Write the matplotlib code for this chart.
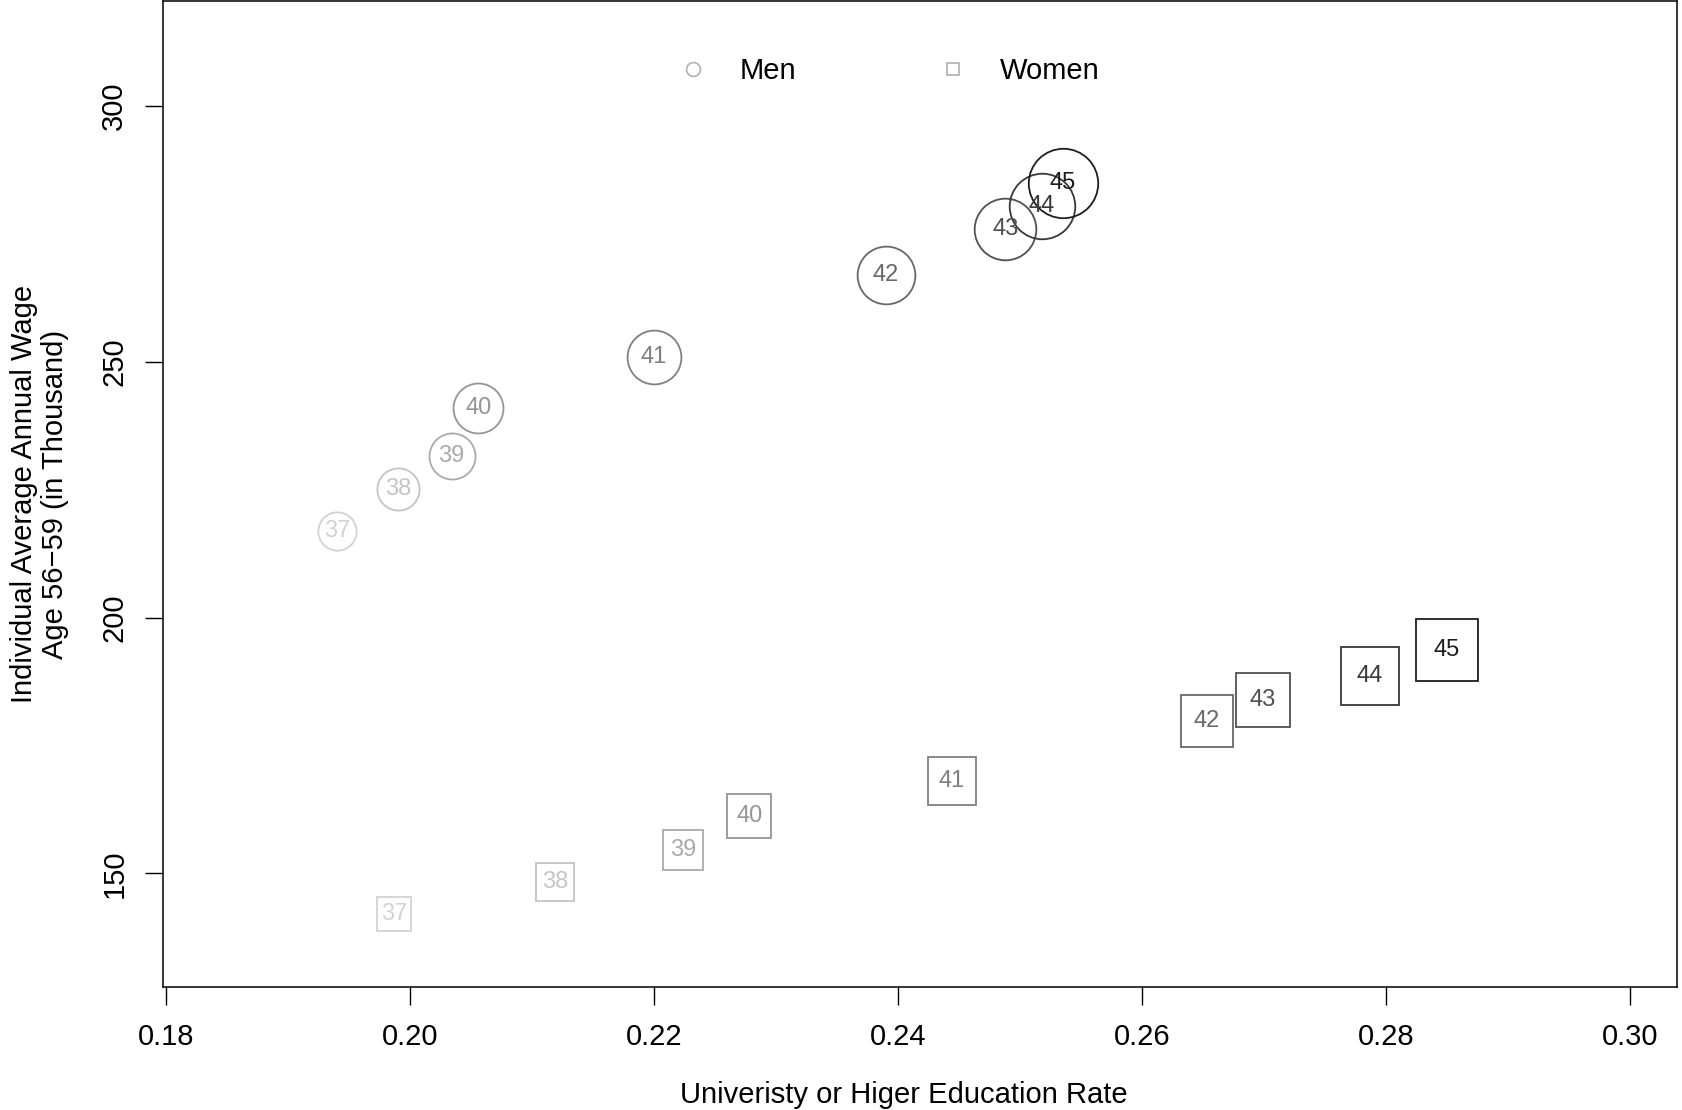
import matplotlib
matplotlib.use("Agg")
import matplotlib.pyplot as plt
from matplotlib.lines import Line2D

plt.rcParams['font.family'] = ['Liberation Sans', 'DejaVu Sans']

# cohorts (label inside each marker)
cohort = [37, 38, 39, 40, 41, 42, 43, 44, 45]
# Men: education rate and wage (thousand)
men_edu = [0.1940, 0.1990, 0.2034, 0.2056, 0.2200, 0.2390, 0.2488, 0.2518, 0.2535]
men_wage = [216.9, 225.1, 231.6, 241.0, 251.0, 266.9, 275.9, 280.5, 284.9]
# Women
women_edu = [0.1987, 0.2119, 0.2224, 0.2278, 0.2444, 0.2653, 0.2699, 0.2787, 0.2850]
women_wage = [142.1, 148.3, 154.6, 161.3, 168.0, 179.7, 183.9, 188.5, 193.7]

xticks = [0.18, 0.20, 0.22, 0.24, 0.26, 0.28, 0.30]
yticks = [150, 200, 250, 300]

# gray shade per cohort, light -> dark
shades = ['#d2d2d2', '#c4c4c4', '#aaaaaa', '#959595', '#808080',
          '#686868', '#505050', '#383838', '#1e1e1e']

fig = plt.figure(figsize=(16.83, 11.1), dpi=100)
ax = fig.add_axes([163/1683, 1-987/1110, (1677-163)/1683, 987/1110 - 0.001])

for i in range(len(cohort)):
    base = 51 + 5.2*i       # marker scale (px), grows with cohort
    ax.plot(men_edu[i], men_wage[i], 'o', ms=0.75*base*0.72, mfc='none',
            mec=shades[i], mew=1.3)
    ax.text(men_edu[i], men_wage[i], str(cohort[i]), ha='center', va='center',
            fontsize=17, color=shades[i])
    ax.plot(women_edu[i], women_wage[i], 's', ms=0.665*base*0.72, mfc='none',
            mec=shades[i], mew=1.3)
    ax.text(women_edu[i], women_wage[i], str(cohort[i]), ha='center', va='center',
            fontsize=17, color=shades[i])

ax.set_xlim(0.17974, 0.30387)
ax.set_ylim(127.8, 320.5)
ax.set_xticks(xticks)
ax.set_xticklabels(['%.2f' % v for v in xticks])
ax.set_yticks(yticks)
ax.tick_params(axis='both', labelsize=21, length=13, width=1.0, direction='out')
ax.tick_params(axis='x', pad=13)
ax.tick_params(axis='y', pad=12)
plt.setp(ax.get_yticklabels(), rotation=90, va='center')
for s in ax.spines.values():
    s.set_linewidth(1.1)

ax.text(0.489, -0.1175, 'Univeristy or Higer Education Rate', transform=ax.transAxes,
        ha='center', va='baseline', fontsize=21)
ax.text(-0.0814, 0.5, 'Individual Average Annual Wage\nAge 56\u221259 (in Thousand)',
        transform=ax.transAxes, ha='center', va='center', rotation=90,
        fontsize=21, linespacing=1.15, multialignment='center')

handles = [Line2D([], [], ls='none', marker='o', ms=10, mfc='none', mec='#b5b5b5', mew=1.3),
           Line2D([], [], ls='none', marker='s', ms=9, mfc='none', mec='#b5b5b5', mew=1.3)]
ax.legend(handles, ['Men', 'Women'], loc='center', bbox_to_anchor=(0.4795, 0.929),
          ncol=2, frameon=False, fontsize=21, handlelength=1.0,
          handletextpad=1.1, columnspacing=4.9)

fig.savefig('out.png', dpi=100)
